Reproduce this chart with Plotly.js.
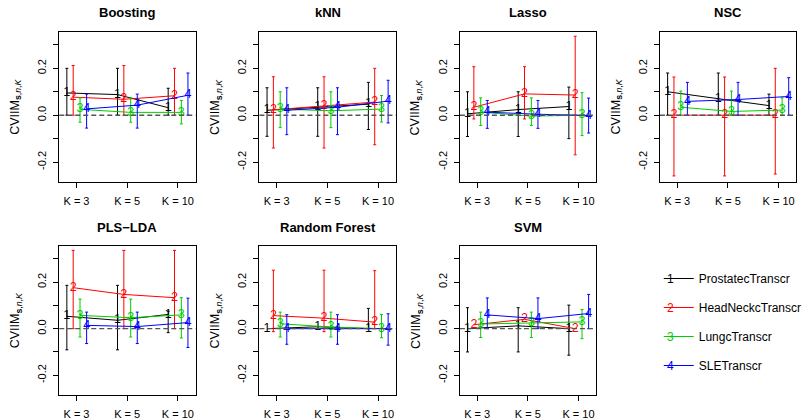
<!DOCTYPE html>
<html><head><meta charset="utf-8">
<script src="https://cdn.plot.ly/plotly-3.0.1.min.js"></script>
<style>html,body{margin:0;padding:0;background:#fff}#chart{width:807px;height:419px}</style>
</head><body><div id="chart"></div>
<script>
// ---------------- data ----------------
const classifiers = ["Boosting", "kNN", "Lasso", "NSC", "PLS\u2212LDA", "Random Forest", "SVM"];
const kLabels = ["K = 3", "K = 5", "K = 10"];
const kPositions = [1, 2, 3];
const datasets = ["ProstatecTranscr", "HeadNeckcTranscr", "LungcTranscr", "SLETranscr"];
const yTickVals = [-0.2, 0.0, 0.2];
const yTickText = ["-0.2", "0.0", "0.2"];

// rows = datasets (1..4), columns = K = 3, 5, 10 ; null = no interval drawn
const boostingMean  = [[0.095, 0.088, 0.032], [0.077, 0.068, 0.083], [0.025, 0.012, 0.012], [0.027, 0.043, 0.085]];
const boostingUpper = [[0.200, 0.200, 0.115], [0.212, 0.212, 0.200], [0.074, 0.074, 0.063], [0.090, 0.090, 0.180]];
const boostingLower = [[0.000, 0.000, 0.000], [0.000, 0.000, 0.000], [-0.030, -0.030, -0.037], [-0.055, -0.055, 0.000]];

const knnMean  = [[0.021, 0.034, 0.047], [0.023, 0.040, 0.056], [0.026, 0.019, 0.026], [0.021, 0.034, 0.060]];
const knnUpper = [[0.117, 0.117, 0.140], [0.164, 0.164, 0.200], [0.100, 0.100, 0.084], [0.117, 0.117, 0.149]];
const knnLower = [[-0.090, -0.090, -0.061], [-0.140, -0.140, -0.126], [-0.053, -0.053, -0.029], [-0.083, -0.083, -0.033]];

const lassoMean  = [[0.006, 0.024, 0.037], [0.034, 0.091, 0.086], [0.013, -0.004, 0.000], [0.013, 0.004, -0.001]];
const lassoUpper = [[0.100, 0.100, 0.120], [0.207, 0.207, 0.337], [0.074, 0.074, 0.096], [0.063, 0.063, 0.073]];
const lassoLower = [[-0.091, -0.091, -0.100], [-0.016, -0.016, -0.169], [-0.044, -0.044, -0.087], [-0.056, -0.056, -0.076]];

const nscMean  = [[0.100, 0.070, 0.041], [0.000, 0.000, 0.000], [0.034, 0.016, 0.022], [0.059, 0.067, 0.080]];
const nscUpper = [[0.180, 0.180, 0.090], [0.163, 0.163, 0.200], [0.103, 0.103, 0.074], [0.140, 0.140, 0.160]];
const nscLower = [[0.000, 0.000, 0.000], [-0.259, -0.259, -0.251], [0.000, 0.000, 0.000], [0.000, 0.000, 0.000]];

const plsldaMean  = [[0.053, 0.036, 0.061], [0.176, 0.147, 0.133], [0.057, 0.047, 0.059], [0.014, 0.009, 0.026]];
const plsldaUpper = [[0.186, 0.186, 0.075], [0.336, 0.336, 0.336], [0.127, 0.127, 0.133], [0.071, 0.071, 0.131]];
const plsldaLower = [[-0.091, -0.091, -0.017], [0.000, 0.000, 0.000], [-0.036, -0.036, -0.040], [-0.064, -0.064, -0.081]];

const rfMean  = [[0.000, 0.008, 0.000], [0.056, 0.045, 0.028], [0.021, 0.007, 0.000], [0.000, 0.000, 0.000]];
const rfUpper = [[null, null, 0.087], [0.251, 0.251, 0.249], [0.071, 0.071, 0.061], [0.060, 0.060, 0.064]];
const rfLower = [[null, null, 0.000], [-0.013, -0.013, 0.000], [-0.036, -0.036, -0.039], [-0.067, -0.067, -0.071]];

const svmMean  = [[0.000, 0.012, 0.000], [0.017, 0.040, 0.000], [0.020, 0.026, 0.029], [0.059, 0.043, 0.065]];
const svmUpper = [[0.090, 0.090, 0.101], [null, null, null], [0.071, 0.071, 0.082], [0.132, 0.132, 0.147]];
const svmLower = [[-0.100, -0.100, -0.114], [null, null, null], [-0.038, -0.038, -0.043], [0.000, 0.000, 0.000]];

const panelMeans  = [boostingMean, knnMean, lassoMean, nscMean, plsldaMean, rfMean, svmMean];
const panelUppers = [boostingUpper, knnUpper, lassoUpper, nscUpper, plsldaUpper, rfUpper, svmUpper];
const panelLowers = [boostingLower, knnLower, lassoLower, nscLower, plsldaLower, rfLower, svmLower];

// ---------------- style / layout ----------------
const W = 807, H = 419;
const FONT = "Liberation Sans, Arial, Helvetica, sans-serif";
const colors = ["#000000", "#FF0000", "#00CD00", "#0000FF"];
const offsets = [-0.19, -0.065, 0.07, 0.2];
const colLeft = [60, 262.7, 465.7, 668.3];
const rowTop = [32, 246];
const rowBottom = [182, 395];
const boxW = 138;

const data = [];
const layout = {
  width: W, height: H,
  margin: {l: 0, r: 0, t: 0, b: 0},
  paper_bgcolor: "#ffffff", plot_bgcolor: "#ffffff",
  font: {family: FONT, color: "#000000", size: 11},
  hovermode: false,
  showlegend: true,
  legend: {x: 667 / W, y: 1 - 264 / H, xanchor: "left", yanchor: "top",
           traceorder: "grouped", tracegroupgap: 10,
           font: {family: FONT, size: 12, color: "#000"},
           bgcolor: "rgba(0,0,0,0)", borderwidth: 0},
  annotations: [], shapes: []
};

classifiers.forEach(function (name, p) {
  const row = p < 4 ? 0 : 1, col = p % 4;
  const sfx = p === 0 ? "" : String(p + 1);
  const L = colLeft[col], T = rowTop[row], B = rowBottom[row];
  layout["xaxis" + sfx] = {
    domain: [L / W, (L + boxW) / W], anchor: "y" + sfx,
    range: [0.66, 3.35], tickmode: "array", tickvals: kPositions, ticktext: kLabels,
    showline: true, mirror: true, linecolor: "#000", linewidth: 1,
    ticks: "outside", ticklen: 5, tickwidth: 1, tickcolor: "#000",
    showgrid: false, zeroline: false, tickfont: {family: FONT, size: 11, color: "#000"},
    ticklabelstandoff: 4, fixedrange: true
  };
  layout["yaxis" + sfx] = {
    domain: [1 - B / H, 1 - T / H], anchor: "x" + sfx,
    range: [-0.285, 0.355], tickmode: "array", tickvals: yTickVals, ticktext: yTickText,
    tickangle: -90,
    minor: {tickmode: "linear", tick0: 0, dtick: 0.1, ticks: "outside", ticklen: 5,
            tickwidth: 1, tickcolor: "#000", showgrid: false},
    showline: true, mirror: true, linecolor: "#000", linewidth: 1,
    ticks: "outside", ticklen: 5, tickwidth: 1, tickcolor: "#000",
    showgrid: false, zeroline: false, tickfont: {family: FONT, size: 11, color: "#000"},
    ticklabelstandoff: 3, fixedrange: true
  };
  // panel title
  layout.annotations.push({
    xref: "paper", yref: "paper", x: (L + boxW / 2) / W, y: 1 - (T - 19) / H,
    xanchor: "center", yanchor: "middle", showarrow: false,
    text: "<b>" + name + "</b>", font: {family: FONT, size: 13, color: "#000"}
  });
  // y-axis title
  layout.annotations.push({
    xref: "paper", yref: "paper", x: (L - 44) / W, y: 1 - ((T + B) / 2) / H,
    xanchor: "center", yanchor: "middle", showarrow: false, textangle: -90,
    text: "CVIIM<sub><b>s</b>,<i>n</i>,<i>K</i></sub>", font: {family: FONT, size: 12.5, color: "#000"}
  });
  // dashed reference line at 0
  layout.shapes.push({
    type: "line", xref: "x" + sfx + " domain", yref: "y" + sfx,
    x0: 0, x1: 1, y0: 0, y1: 0, layer: "above",
    line: {color: "#555555", width: 1.4, dash: "5px,3px"}
  });

  const means = panelMeans[p], ups = panelUppers[p], lows = panelLowers[p];
  means.forEach(function (m, s) {
    const plus = m.map(function (v, i) { return ups[s][i] === null ? NaN : ups[s][i] - v; });
    const minus = m.map(function (v, i) { return lows[s][i] === null ? NaN : v - lows[s][i]; });
    data.push({
      type: "scatter", mode: "lines+text",
      x: kPositions.map(function (k) { return k + offsets[s]; }),
      y: m, text: m.map(function () { return String(s + 1); }),
      textposition: "middle center",
      textfont: {family: FONT, size: 12.5, color: colors[s]},
      line: {color: colors[s], width: 1},
      error_y: {type: "data", symmetric: false, array: plus, arrayminus: minus,
                color: colors[s], thickness: 1, width: 1.5},
      cliponaxis: false,
      xaxis: "x" + sfx, yaxis: "y" + sfx, showlegend: false, hoverinfo: "skip"
    });
  });
});

// legend entries
datasets.forEach(function (d, s) {
  data.push({type: "scatter", mode: "lines", x: [null], y: [null], name: d,
             legendgroup: "g" + s, showlegend: true,
             line: {color: colors[s], width: 1}, xaxis: "x", yaxis: "y", hoverinfo: "skip"});
});

const gd = document.getElementById("chart");
Plotly.newPlot(gd, data, layout, {staticPlot: true, displayModeBar: false}).then(function () {
  const items = gd.querySelectorAll(".legend .traces");
  const gbox = gd.getBoundingClientRect();
  const anns = layout.annotations.slice();
  items.forEach(function (it, i) {
    const p = it.querySelector(".legendlines path");
    if (!p) return;
    const b = p.getBoundingClientRect();
    anns.push({xref: "paper", yref: "paper",
               x: (b.left + b.width / 2 - gbox.left) / W,
               y: 1 - (b.top + b.height / 2 - gbox.top) / H,
               xanchor: "center", yanchor: "middle", showarrow: false,
               text: String(i + 1), font: {family: FONT, size: 12, color: colors[i]}});
  });
  return Plotly.relayout(gd, {annotations: anns});
});
</script>
</body></html>
